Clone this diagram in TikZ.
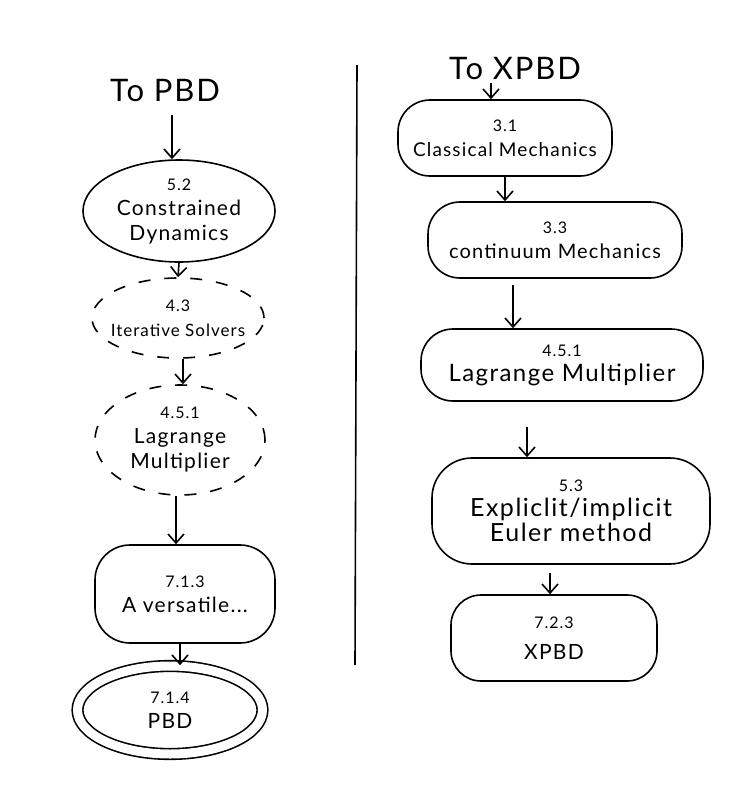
\documentclass[tikz,border=0pt]{standalone}
\usepackage{fontspec}
\setmainfont{Lato}
\usetikzlibrary{shapes.geometric, arrows.meta}

\newcommand\refno[1]{{\fontsize{16}{18}\selectfont #1}}

\begin{document}
\begin{tikzpicture} [
  x = 1pt,
  y = -1pt,
  line width = 1.6pt,
  hand/.style = {font = \fontsize{#1}{25}\selectfont\addfontfeature{LetterSpace = 6}},
  hand/.default = 21,
  blob/.style = {draw, ellipse, align = center, inner xsep = -40pt, inner ysep = -15pt, hand},
  dashblob/.style = {blob, dash pattern = on 12pt off 14pt},
  roundbox/.style = {draw, rectangle, rounded corners = 35pt, align = center, inner sep = 0pt, hand},
  flow/.style = {-{Straight Barb[length = 9pt, width = 16pt]}},
  title/.style = {hand = 31},
]
\useasboundingbox (0, 0) rectangle (738, 785);

% left column: to PBD
\node [title] (topbd) at (165, 90) {To PBD};
\node [blob, minimum width = 192, minimum height = 102] (cd) at (179, 211) {\refno{5.2}\\Constrained\\Dynamics};
\node [dashblob, minimum width = 172, minimum height = 80, hand = 17] (is) at (178, 318) {\refno{4.3}\\Iterative Solvers};
\node [dashblob, minimum width = 170, minimum height = 110] (lml) at (180, 440) {\refno{4.5.1}\\Lagrange\\Multiplier};
\node [roundbox, minimum width = 180, minimum height = 98] (vs) at (185, 594) {\refno{7.1.3}\\A versatile...};
\node [blob, double, double distance = 9pt, minimum width = 185, minimum height = 88] (pbd) at (170, 710) {\refno{7.1.4}\\PBD};

\draw [flow, shorten < = 10pt] ([xshift = 7pt]topbd.south) -- ([xshift = -7pt]cd.north);
\draw [flow] (cd.south) -- (is.north);
\draw [flow] ([xshift = 5pt]is.south) -- ([xshift = 3pt]lml.north);
\draw [flow] ([xshift = -4pt]lml.south) -- ([xshift = -9pt]vs.north);
\draw [flow] ([xshift = -5pt]vs.south) -- ([xshift = 10pt]pbd.north);

% divider
\draw (357, 65) -- (355, 665);

% right column: to XPBD
\node [title] (toxpbd) at (515, 68) {To XPBD};
\node [roundbox, rounded corners = 32pt, minimum width = 214, minimum height = 76, hand = 19] (cm) at (505, 138) {\refno{3.1}\\Classical Mechanics};
\node [roundbox, rounded corners = 32pt, minimum width = 254, minimum height = 76, hand = 20] (ctm) at (555, 240) {\refno{3.3}\\continuum Mechanics};
\node [roundbox, rounded corners = 32pt, minimum width = 282, minimum height = 72, hand = 24] (lmr) at (562, 365) {\refno{4.5.1}\\Lagrange Multiplier};
\node [roundbox, rounded corners = 40pt, minimum width = 278, minimum height = 106, hand = 25] (eu) at (571, 511) {\refno{5.3}\\Expliclit/implicit\\Euler method};
\node [roundbox, rounded corners = 30pt, minimum width = 206, minimum height = 86] (xp) at (554, 638) {\refno{7.2.3}\\[6pt]XPBD};

\draw [flow] ([xshift = -24pt]toxpbd.south) -- ([xshift = -14pt]cm.north);
\draw [flow] (cm.south) -- (cm.south |- ctm.north);
\draw [flow, shorten < = 6pt] ([xshift = -42pt]ctm.south) -- ([xshift = -49pt]lmr.north);
\draw [flow, shorten < = 25pt] ([xshift = -35pt]lmr.south) -- ([xshift = -44pt]eu.north);
\draw [flow, shorten < = 8pt] ([xshift = -21pt]eu.south) -- ([xshift = -4pt]xp.north);
\end{tikzpicture}
\end{document}
